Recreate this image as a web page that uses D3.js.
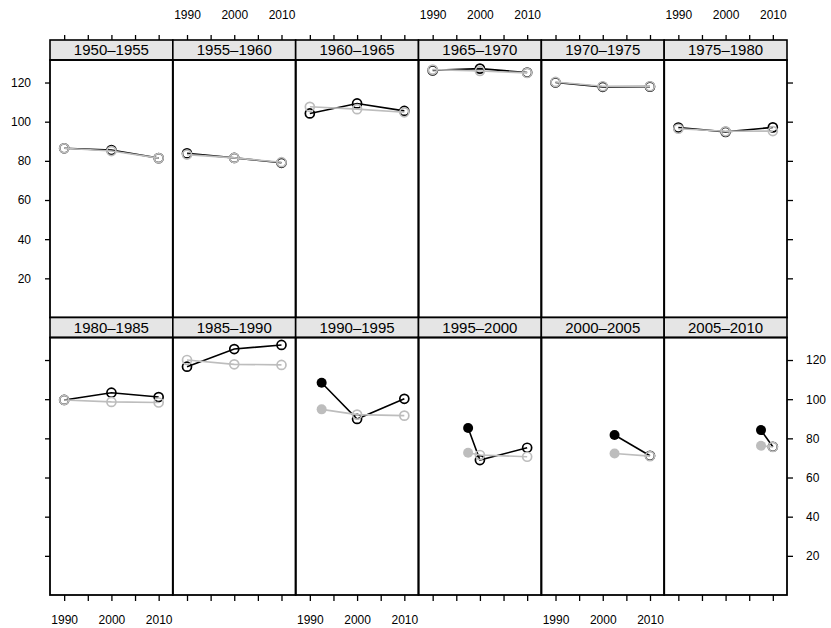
<!DOCTYPE html>
<html>
<head>
<meta charset="utf-8">
<script src="https://cdn.jsdelivr.net/npm/d3@7"></script>
<style>
  body { margin: 0; background: #fff; }
  svg { display: block; }
  text { font-family: "Liberation Sans", Arial, Helvetica, sans-serif; fill: #000; }
</style>
</head>
<body>
<svg id="chart" width="831" height="628"></svg>
<script>
// ---- data ----
const periods = ["1950–1955", "1955–1960", "1960–1965", "1965–1970", "1970–1975", "1975–1980",
                 "1980–1985", "1985–1990", "1990–1995", "1995–2000", "2000–2005", "2005–2010"];
const years = [
  [1990, 2000, 2010], [1990, 2000, 2010], [1990, 2000, 2010], [1990, 2000, 2010],
  [1990, 2000, 2010], [1990, 2000, 2010], [1990, 2000, 2010], [1990, 2000, 2010],
  [1992.5, 2000, 2010], [1997.5, 2000, 2010], [2002.5, 2010], [2007.5, 2010]
];
const blackValues = [
  [86.4, 85.5, 81.4], [83.8, 81.5, 79.0], [104.2, 109.3, 105.5], [126.2, 127.1, 125.1],
  [120.0, 117.8, 117.9], [97.0, 94.8, 97.1], [99.6, 103.3, 101.1], [116.6, 125.6, 127.7],
  [108.4, 89.9, 100.2], [85.3, 68.9, 75.2], [81.7, 71.1], [84.2, 75.7]
];
const greyValues = [
  [86.4, 85.0, 81.4], [83.2, 81.5, 79.3], [107.6, 106.4, 104.8], [126.6, 125.9, 124.9],
  [120.3, 118.1, 118.1], [96.4, 95.1, 95.2], [99.6, 98.6, 98.3], [120.0, 117.8, 117.5],
  [94.8, 92.1, 91.6], [72.6, 71.5, 70.6], [72.3, 70.9], [76.2, 75.6]
];
// first point of these panels is an estimate (drawn filled)
const filledFirst = [false, false, false, false, false, false, false, false, true, true, true, true];
const xTicks = [1990, 1995, 2000, 2005, 2010];
const xTickLabels = ["1990", "", "2000", "", "2010"];
const yTicks = [20, 40, 60, 80, 100, 120];
const xDomain = [1987, 2013];
const yDomain = [0, 131.5];

// ---- layout ----
const svg = d3.select("#chart");
const nCols = 6;
const left = 50, right = 787;
const panelW = (right - left) / nCols;
const stripH = 20;
const rows = [
  { stripTop: 40, panelTop: 60, panelBottom: 317.5 },
  { stripTop: 317.5, panelTop: 337.5, panelBottom: 595 }
];
const black = "#000000", grey = "#bdbdbd";
const tickLen = 5;

periods.forEach((p, i) => {
  const r = Math.floor(i / nCols), c = i % nCols;
  const row = rows[r];
  const x0 = left + c * panelW;
  const x = d3.scaleLinear().domain(xDomain).range([x0, x0 + panelW]);
  const y = d3.scaleLinear().domain(yDomain).range([row.panelBottom, row.panelTop]);
  const g = svg.append("g");

  // strip
  g.append("rect").attr("x", x0).attr("y", row.stripTop).attr("width", panelW).attr("height", stripH)
    .attr("fill", "#e5e5e5").attr("stroke", "#000").attr("stroke-width", 1.6);
  g.append("text").attr("x", x0 + panelW / 2).attr("y", row.stripTop + stripH / 2)
    .attr("dy", "0.36em").attr("text-anchor", "middle").style("font-size", "15px").text(p);

  // series
  const clip = "clip" + i;
  svg.append("clipPath").attr("id", clip).append("rect")
    .attr("x", x0).attr("y", row.panelTop).attr("width", panelW).attr("height", row.panelBottom - row.panelTop);
  const pg = g.append("g").attr("clip-path", `url(#${clip})`);
  const series = [
    { vals: blackValues[i], color: black },
    { vals: greyValues[i], color: grey }
  ];
  series.forEach(s => {
    const pts = years[i].map((yr, k) => ({ yr, v: s.vals[k], filled: filledFirst[i] && k === 0 }));
    pg.append("path").datum(pts)
      .attr("d", d3.line().x(d => x(d.yr)).y(d => y(d.v)))
      .attr("fill", "none").attr("stroke", s.color).attr("stroke-width", 1.6);
    pg.selectAll(null).data(pts).join("circle")
      .attr("cx", d => x(d.yr)).attr("cy", d => y(d.v))
      .attr("r", d => d.filled ? 5 : 4.5)
      .attr("fill", d => d.filled ? s.color : "none")
      .attr("stroke", s.color).attr("stroke-width", d => d.filled ? 0 : 1.7);
  });

  // panel border
  g.append("rect").attr("x", x0).attr("y", row.panelTop).attr("width", panelW)
    .attr("height", row.panelBottom - row.panelTop)
    .attr("fill", "none").attr("stroke", "#000").attr("stroke-width", 1.8);

  // x axes
  if (r === 0) {
    const ax = d3.axisTop(x).tickValues(xTicks).tickSize(tickLen).tickPadding(16).tickSizeOuter(0)
      .tickFormat((d, k) => (c % 2 === 1 ? xTickLabels[k] : ""));
    const a = svg.append("g").attr("transform", `translate(0,${row.stripTop})`).call(ax);
    a.select(".domain").remove();
    a.selectAll("text").style("font-size", "12px").attr("font-family", null);
    a.selectAll("line").attr("stroke-width", 1.3);
  } else {
    const ax = d3.axisBottom(x).tickValues(xTicks).tickSize(tickLen + 1).tickPadding(14).tickSizeOuter(0)
      .tickFormat((d, k) => (c % 2 === 0 ? xTickLabels[k] : ""));
    const a = svg.append("g").attr("transform", `translate(0,${row.panelBottom})`).call(ax);
    a.select(".domain").remove();
    a.selectAll("text").style("font-size", "12px").attr("font-family", null);
    a.selectAll("line").attr("stroke-width", 1.3);
  }

  // y axes
  if (c === 0) {
    const ay = d3.axisLeft(y).tickValues(yTicks).tickSize(tickLen).tickPadding(14).tickSizeOuter(0)
      .tickFormat(d => (r === 0 ? d : ""));
    const a = svg.append("g").attr("transform", `translate(${x0},0)`).call(ay);
    a.select(".domain").remove();
    a.selectAll("text").style("font-size", "12px").attr("font-family", null);
    a.selectAll("line").attr("stroke-width", 1.3);
  }
  if (c === nCols - 1) {
    const ay = d3.axisRight(y).tickValues(yTicks).tickSize(tickLen + 1).tickPadding(13).tickSizeOuter(0)
      .tickFormat(d => (r === 1 ? d : ""));
    const a = svg.append("g").attr("transform", `translate(${x0 + panelW},0)`).call(ay);
    a.select(".domain").remove();
    a.selectAll("text").style("font-size", "12px").attr("font-family", null);
    a.selectAll("line").attr("stroke-width", 1.3);
  }
});
</script>
</body>
</html>
